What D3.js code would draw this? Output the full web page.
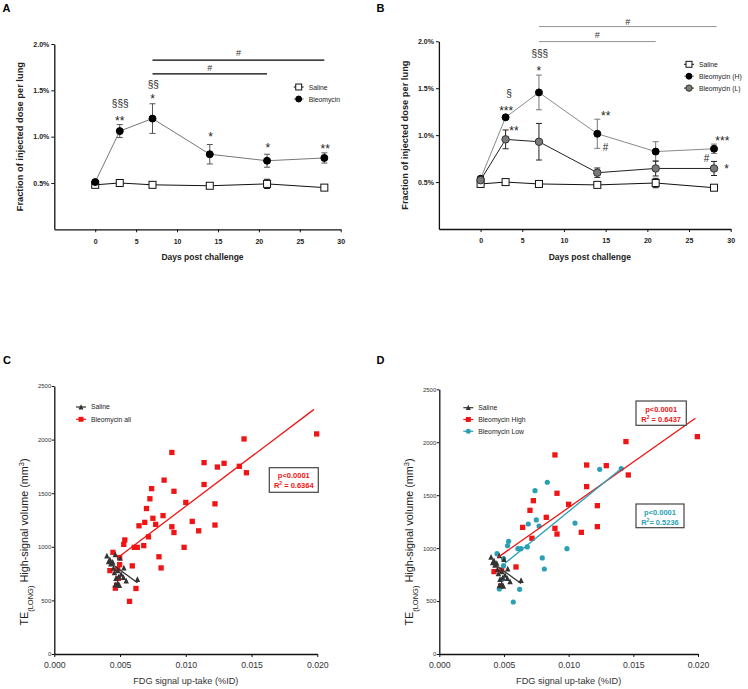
<!DOCTYPE html>
<html><head><meta charset="utf-8">
<script src="https://cdn.jsdelivr.net/npm/d3@7"></script>
<style>
body{margin:0;background:#fff}
svg{display:block}
text{font-family:"Liberation Sans",Arial,Helvetica,sans-serif}
</style>
</head><body>
<svg id="c" width="748" height="689"></svg>
<script>
// ---------- DATA ----------
const days = [0, 3, 7, 14, 21, 28];
const xTicksAB = [0, 5, 10, 15, 20, 25, 30];
const yTicksAB = [0.5, 1.0, 1.5, 2.0];

// Panel A (fraction of injected dose, %)
const salineA = [0.48, 0.50, 0.48, 0.47, 0.49, 0.45];
const salineAErr = [0.02, 0.02, 0.02, 0.02, 0.05, 0.02];
const bleoA = [0.51, 1.06, 1.195, 0.81, 0.74, 0.77];
const bleoAErr = [0.02, 0.07, 0.16, 0.105, 0.07, 0.055];

// Panel B
const salineB = [0.48, 0.50, 0.48, 0.47, 0.49, 0.44];
const salineBErr = [0.02, 0.02, 0.02, 0.02, 0.05, 0.02];
const bleoHB = [0.535, 1.19, 1.455, 1.015, 0.825, 0.855];
const bleoHBErr = [0.02, 0.02, 0.185, 0.155, 0.105, 0.05];
const bleoLB = [0.52, 0.955, 0.93, 0.60, 0.645, 0.645];
const bleoLBErr = [0.02, 0.10, 0.195, 0.05, 0.08, 0.075];

// annotations: [day, value at text baseline, text, kind]
const annotA = [[3.05, 1.325, "§§§", "s"], [3, 1.126, "**", "a"], [7.1, 1.52, "§§", "s"], [7, 1.364, "*", "a"],
  [14.1, 0.954, "*", "a"], [21.1, 0.835, "*", "a"], [28.1, 0.824, "**", "a"]];
const barsA = [[7, 28, 1.825, 1.866], [7, 21, 1.677, 1.704]];
const annotB = [[3.4, 1.41, "§", "s"], [3.07, 1.215, "***", "a"], [4.0, 1.0, "**", "a"], [7.1, 1.838, "§§§", "s"],
  [7, 1.642, "*", "a"], [15, 1.162, "**", "a"], [15, 0.826, "#", "s"], [29.0, 0.896, "***", "a"],
  [27.1, 0.709, "#", "s"], [29.5, 0.597, "*", "a"]];
const barsB = [[7, 28.3, 2.157, 2.173], [7, 21, 1.997, 2.03]];

// Scatter panels C/D
const xTicksCD = [0, 0.005, 0.010, 0.015, 0.020];
const yTicksCD = [0, 500, 1000, 1500, 2000, 2500];
const highX = [0.01995, 0.01443, 0.01461, 0.01291, 0.01139, 0.01139, 0.01222, 0.01222, 0.01098, 0.0100, 0.0091, 0.0091,
  0.00894, 0.00894, 0.00827, 0.00727, 0.00701, 0.00716, 0.00644, 0.00593, 0.00423, 0.00482, 0.00474];
const highY = [2053, 2006, 1691, 1779, 1785, 1581, 1401, 1203, 1149, 1414, 1518, 1133,
  1187, 1880, 1291, 1448, 1357, 1093, 1196, 822, 778, 793, 642];
const lowX = [0.01407, 0.0124, 0.00835, 0.0074, 0.0075, 0.00771, 0.00688, 0.01049, 0.00987, 0.00796, 0.00812, 0.0068,
  0.00631, 0.00608, 0.00536, 0.00528, 0.00446, 0.00497, 0.00497, 0.00487, 0.00464, 0.00621, 0.00572];
const lowY = [1751, 1744, 1622, 1543, 1266, 1209, 1228, 1237, 995, 907, 803, 1011,
  995, 995, 1064, 1023, 948, 900, 834, 705, 614, 611, 491];
const salX = [0.0040, 0.00464, 0.00423, 0.00444, 0.0050, 0.00413, 0.0043, 0.00529, 0.00482, 0.00457, 0.00508, 0.00526,
  0.00469, 0.00547, 0.00632, 0.00482, 0.00464, 0.00495, 0.0045, 0.0049];
const salY = [916, 928, 881, 857, 894, 862, 840, 803, 777, 760, 746, 715,
  705, 683, 696, 661, 645, 640, 800, 720];
// regression line end points [x, y]
const fitAll = [[0.00492, 908], [0.01975, 2282]];
const fitHigh = [[0.00456, 915], [0.0198, 2226]];
const fitLow = [[0.00508, 857], [0.0141, 1754]];
const fitSaline = [[0.00415, 860], [0.00632, 665]];
const statsC = ["p<0.0001", "0.6364"];
const statsHigh = ["p<0.0001", "0.6437"];
const statsLow = ["p<0.0001", "0.5236"];

// ---------- DRAW ----------
const svg = d3.select("#c");
const RED = "#f01414", TEAL = "#2a9fb5";

function panelLabel(t, x, y) {
  svg.append("text").attr("x", x).attr("y", y).attr("font-size", 11).attr("font-weight", "bold").text(t);
}

function marker(g, type, cx, cy, fill, stroke, s) {
  if (type === "square") {
    g.append("rect").attr("x", cx - s / 2).attr("y", cy - s / 2).attr("width", s).attr("height", s)
      .attr("fill", fill).attr("stroke", stroke).attr("stroke-width", stroke === "none" ? 0 : 1);
  } else if (type === "circle") {
    g.append("circle").attr("cx", cx).attr("cy", cy).attr("r", s / 2).attr("fill", fill)
      .attr("stroke", stroke).attr("stroke-width", stroke === "none" ? 0 : 1);
  } else {
    const h = s * 0.95;
    g.append("path").attr("d", `M${cx},${cy - h / 2 - 0.5}L${cx + s / 2},${cy + h / 2}L${cx - s / 2},${cy + h / 2}Z`)
      .attr("fill", fill);
  }
}

function lineChart(cfg) {
  const g = svg.append("g");
  const x = d3.scaleLinear().domain([-5, 30]).range([cfg.left, cfg.right]);
  const y = d3.scaleLinear().domain([0, 2]).range([cfg.bottom, cfg.top]);
  const ya = g.append("g").attr("transform", `translate(${cfg.left},0)`)
    .call(d3.axisLeft(y).tickValues(yTicksAB).tickFormat(d => d.toFixed(1) + "%").tickSize(3).tickSizeOuter(0));
  const xa = g.append("g").attr("transform", `translate(0,${cfg.bottom})`)
    .call(d3.axisBottom(x).tickValues(xTicksAB).tickSize(3).tickSizeOuter(0));
  [ya, xa].forEach(a => {
    a.select(".domain").attr("stroke", "#111").attr("stroke-width", 1.3);
    a.selectAll(".tick line").attr("stroke", "#111").attr("stroke-width", 1);
    a.selectAll(".tick text").attr("font-size", 7).attr("font-weight", "bold").attr("fill", "#222")
      .attr("font-family", '"Liberation Sans",Arial,sans-serif');
  });
  xa.selectAll(".tick text").attr("dy", "1.2em");
  ya.selectAll(".tick text").attr("x", -5);
  // titles
  g.append("text").attr("x", (cfg.left + cfg.right) / 2 + 5).attr("y", cfg.bottom + 31).attr("text-anchor", "middle")
    .attr("font-size", 8.5).attr("font-weight", "bold").attr("fill", "#222").text("Days post challenge");
  g.append("text").attr("transform", `translate(${cfg.left - 31},${(cfg.top + cfg.bottom) / 2}) rotate(-90)`)
    .attr("text-anchor", "middle").attr("font-size", 9.3).attr("font-weight", "bold").attr("fill", "#222")
    .text("Fraction of injected dose per lung");
  // series
  cfg.series.forEach(s => {
    const pts = days.map((d, i) => [x(d), y(s.v[i]), y(s.v[i] + s.e[i]), y(s.v[i] - s.e[i])]);
    g.append("path").attr("d", d3.line()(pts.map(p => [p[0], p[1]]))).attr("fill", "none")
      .attr("stroke", s.line).attr("stroke-width", 1);
    pts.forEach(p => {
      g.append("line").attr("x1", p[0]).attr("x2", p[0]).attr("y1", p[2]).attr("y2", p[3]).attr("stroke", s.err).attr("stroke-width", 1);
      [p[2], p[3]].forEach(yy => g.append("line").attr("x1", p[0] - 3).attr("x2", p[0] + 3).attr("y1", yy).attr("y2", yy)
        .attr("stroke", s.err).attr("stroke-width", 1));
    });
    pts.forEach(p => marker(g, s.type, p[0], p[1], s.fill, s.stroke, s.size));
  });
  // annotations
  cfg.annot.forEach(a => {
    g.append("text").attr("x", x(a[0])).attr("y", y(a[1])).attr("text-anchor", "middle")
      .attr("font-size", a[3] === "a" ? 12 : 10).attr("fill", "#222").text(a[2]);
  });
  cfg.bars.forEach(b => {
    g.append("line").attr("x1", x(b[0])).attr("x2", x(b[1])).attr("y1", y(b[2])).attr("y2", y(b[2]))
      .attr("stroke", cfg.barColor).attr("stroke-width", cfg.barWidth);
    g.append("text").attr("x", x((b[0] + b[1]) / 2)).attr("y", y(b[3])).attr("text-anchor", "middle")
      .attr("font-size", 9).attr("fill", "#333").text("#");
  });
  // legend
  cfg.series.forEach((s, i) => {
    const ly = cfg.legY + i * cfg.legStep;
    g.append("line").attr("x1", cfg.legX - 5).attr("x2", cfg.legX + 5).attr("y1", ly).attr("y2", ly).attr("stroke", s.line);
    marker(g, s.type, cfg.legX, ly, s.fill, s.stroke, s.size * 0.85);
    g.append("text").attr("x", cfg.legX + 10).attr("y", ly + 2.5).attr("font-size", 6.8).attr("fill", "#222").text(s.name);
  });
}

lineChart({
  left: 54.3, right: 340.7, top: 44, bottom: 229.3,
  series: [
    {name: "Saline", v: salineA, e: salineAErr, line: "#111", err: "#111", type: "square", fill: "#fff", stroke: "#111", size: 7},
    {name: "Bleomycin", v: bleoA, e: bleoAErr, line: "#777", err: "#555", type: "circle", fill: "#000", stroke: "#000", size: 7}
  ],
  annot: annotA, bars: barsA, barColor: "#000", barWidth: 1.3,
  legX: 298.7, legY: 87, legStep: 12
});

lineChart({
  left: 438.9, right: 730.7, top: 41.3, bottom: 229,
  series: [
    {name: "Saline", v: salineB, e: salineBErr, line: "#111", err: "#111", type: "square", fill: "#fff", stroke: "#111", size: 7},
    {name: "Bleomycin (H)", v: bleoHB, e: bleoHBErr, line: "#8a8a8a", err: "#777", type: "circle", fill: "#000", stroke: "#000", size: 7},
    {name: "Bleomycin (L)", v: bleoLB, e: bleoLBErr, line: "#222", err: "#222", type: "circle", fill: "#7a7a7a", stroke: "#333", size: 7.5}
  ],
  annot: annotB, bars: barsB, barColor: "#777", barWidth: 0.8,
  legX: 689, legY: 64.3, legStep: 11.9
});

function scatter(cfg) {
  const g = svg.append("g");
  const x = d3.scaleLinear().domain([0, 0.02]).range([cfg.left, cfg.right]);
  const y = d3.scaleLinear().domain([0, 2500]).range([cfg.bottom, cfg.top]);
  const ya = g.append("g").attr("transform", `translate(${cfg.left},0)`)
    .call(d3.axisLeft(y).tickValues(yTicksCD).tickFormat(d3.format("d")).tickSize(2.5).tickSizeOuter(0));
  const xa = g.append("g").attr("transform", `translate(0,${cfg.bottom})`)
    .call(d3.axisBottom(x).tickValues(xTicksCD).tickFormat(d3.format(".3f")).tickSize(3).tickSizeOuter(0));
  [ya, xa].forEach(a => {
    a.select(".domain").attr("stroke", "#111").attr("stroke-width", 1.3);
    a.selectAll(".tick line").attr("stroke", "#111");
    a.selectAll(".tick text").attr("fill", "#333").attr("font-family", '"Liberation Sans",Arial,sans-serif');
  });
  ya.selectAll(".tick text").attr("font-size", 6).attr("x", -3);
  xa.selectAll(".tick text").attr("font-size", 8.7).attr("dy", "0.9em");
  g.append("text").attr("x", (cfg.left + cfg.right) / 2).attr("y", cfg.bottom + 30).attr("text-anchor", "middle")
    .attr("font-size", 9.2).attr("fill", "#333").text("FDG signal up-take (%ID)");
  const yl = g.append("text").attr("transform", `translate(${cfg.left - 26},${cfg.bottom - 112}) rotate(-90)`)
    .attr("text-anchor", "middle").attr("font-size", 10.8).attr("fill", "#222");
  yl.append("tspan").text("TE");
  yl.append("tspan").attr("font-size", 7.5).attr("baseline-shift", "sub").text("(LONG)");
  yl.append("tspan").text(" High-signal volume (mm");
  yl.append("tspan").attr("font-size", 7.5).attr("baseline-shift", "super").text("3");
  yl.append("tspan").text(")");
  // points
  cfg.groups.forEach(gr => {
    gr.x.forEach((xv, i) => marker(g, gr.type, x(xv), y(gr.y[i]), gr.color, "none", gr.size));
  });
  cfg.fits.forEach(f => {
    g.append("line").attr("x1", x(f.p[0][0])).attr("y1", y(f.p[0][1])).attr("x2", x(f.p[1][0])).attr("y2", y(f.p[1][1]))
      .attr("stroke", f.color).attr("stroke-width", 1.3);
  });
  // legend
  cfg.legend.forEach((l, i) => {
    const ly = cfg.legY + i * cfg.legStep;
    g.append("line").attr("x1", cfg.legX - 5).attr("x2", cfg.legX + 5).attr("y1", ly).attr("y2", ly).attr("stroke", l.color).attr("stroke-width", 1.2);
    marker(g, l.type, cfg.legX, ly, l.color, "none", l.size);
    g.append("text").attr("x", cfg.legX + 10).attr("y", ly + 2.4).attr("font-size", 6.8).attr("fill", "#222").text(l.name);
  });
  // stats boxes
  cfg.boxes.forEach(b => {
    g.append("rect").attr("x", b.x).attr("y", b.y).attr("width", b.w).attr("height", b.h)
      .attr("fill", "#fff").attr("stroke", "#444").attr("stroke-width", 1.2);
    g.append("text").attr("x", b.x + b.w / 2).attr("y", b.y + 10.5).attr("text-anchor", "middle")
      .attr("font-size", 7.5).attr("font-weight", "bold").attr("fill", b.color).text(b.t[0]);
    const t2 = g.append("text").attr("x", b.x + b.w / 2).attr("y", b.y + 20.5).attr("text-anchor", "middle")
      .attr("font-size", 7.5).attr("font-weight", "bold").attr("fill", b.color);
    t2.append("tspan").text("R");
    t2.append("tspan").attr("font-size", 5).attr("baseline-shift", "super").text("2");
    t2.append("tspan").text(b.sep + b.t[1]);
  });
}

scatter({
  left: 54.3, right: 317.3, top: 386, bottom: 654,
  groups: [
    {x: highX.concat(lowX), y: highY.concat(lowY), type: "square", color: RED, size: 5.3},
    {x: salX, y: salY, type: "tri", color: "#333", size: 5.5}
  ],
  fits: [{p: fitAll, color: RED}, {p: fitSaline, color: "#333"}],
  legend: [{name: "Saline", type: "tri", color: "#333", size: 5}, {name: "Bleomycin all", type: "square", color: RED, size: 5}],
  legX: 81, legY: 407, legStep: 12.3,
  boxes: [{x: 269.3, y: 467.7, w: 49, h: 24.6, color: RED, t: statsC, sep: " = "}]
});

scatter({
  left: 439.3, right: 698, top: 389.3, bottom: 654,
  groups: [
    {x: highX, y: highY, type: "square", color: RED, size: 5.3},
    {x: lowX, y: lowY, type: "circle", color: TEAL, size: 5.2},
    {x: salX, y: salY, type: "tri", color: "#333", size: 5.5}
  ],
  fits: [{p: fitHigh, color: RED}, {p: fitLow, color: TEAL}, {p: fitSaline, color: "#333"}],
  legend: [{name: "Saline", type: "tri", color: "#333", size: 5}, {name: "Bleomycin High", type: "square", color: RED, size: 5},
    {name: "Bleomycin Low", type: "circle", color: TEAL, size: 5}],
  legX: 468.3, legY: 407.7, legStep: 11.8,
  boxes: [{x: 636, y: 401, w: 50.3, h: 24.3, color: RED, t: statsHigh, sep: " = "},
    {x: 636, y: 504, w: 48, h: 23.7, color: TEAL, t: statsLow, sep: "= "}]
});

panelLabel("A", 2.5, 11.7);
panelLabel("B", 376.5, 11.7);
panelLabel("C", 3, 364.3);
panelLabel("D", 376.5, 364.3);
</script>
</body></html>
